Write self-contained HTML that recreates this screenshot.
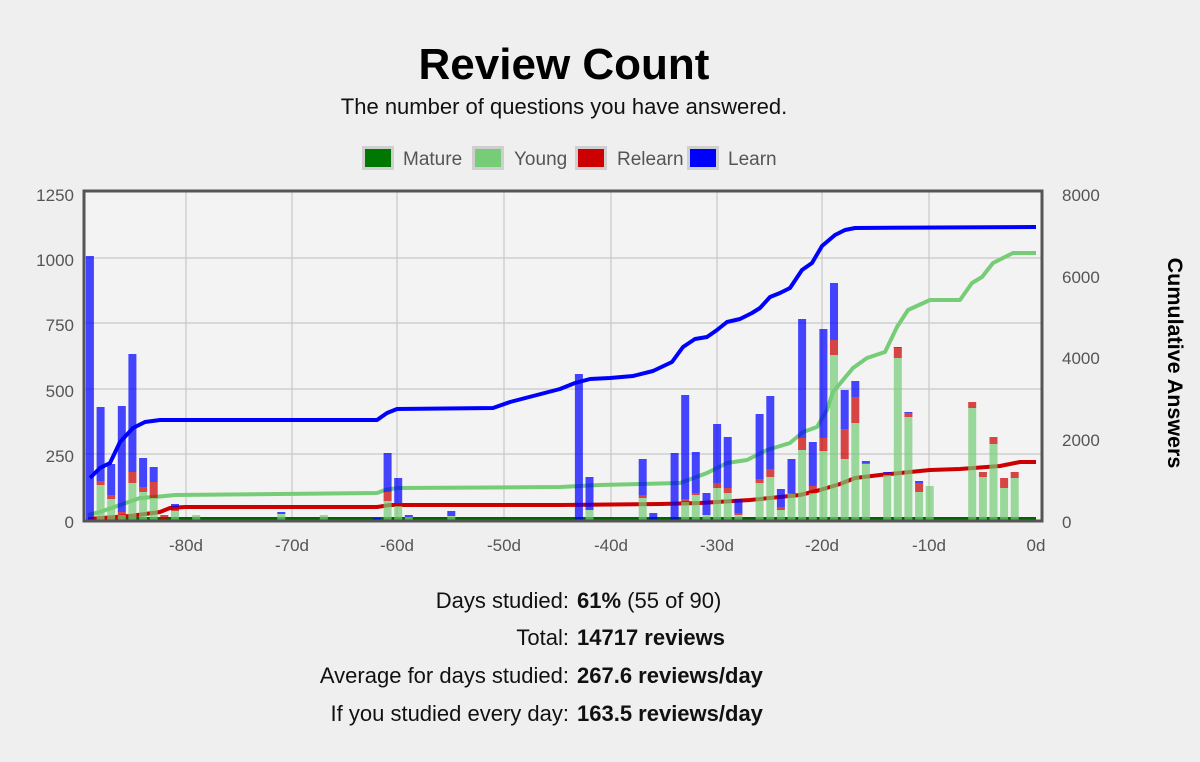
<!DOCTYPE html>
<html><head><meta charset="utf-8">
<style>
html,body{margin:0;padding:0;width:1200px;height:762px;overflow:hidden;background:#efefef;font-family:"Liberation Sans",sans-serif;}
svg{position:absolute;left:0;top:0}
</style></head>
<body>
<svg width="1200" height="762" viewBox="0 0 1200 762" xmlns="http://www.w3.org/2000/svg" font-family="Liberation Sans, sans-serif">
<rect width="1200" height="762" fill="#efefef"/>
<text x="564" y="79" font-size="44" font-weight="bold" text-anchor="middle" fill="#000">Review Count</text>
<text x="564" y="114" font-size="22" text-anchor="middle" fill="#111">The number of questions you have answered.</text>
<g font-size="19" fill="#555">
<rect x="362" y="146" width="32" height="24" fill="#cfcfcf"/><rect x="365" y="149" width="26" height="18" fill="#007700"/><text x="403" y="165">Mature</text>
<rect x="472" y="146" width="32" height="24" fill="#cfcfcf"/><rect x="475" y="149" width="26" height="18" fill="#77cc77"/><text x="514" y="165">Young</text>
<rect x="575" y="146" width="32" height="24" fill="#cfcfcf"/><rect x="578" y="149" width="26" height="18" fill="#cc0000"/><text x="617" y="165">Relearn</text>
<rect x="687" y="146" width="32" height="24" fill="#cfcfcf"/><rect x="690" y="149" width="26" height="18" fill="#0000ff"/><text x="728" y="165">Learn</text>
</g>
<rect x="84" y="191" width="958" height="330" fill="#f3f3f3"/>
<g stroke="#c8c8c8" stroke-width="1.2">
<line x1="84" x2="1042" y1="258" y2="258"/><line x1="84" x2="1042" y1="323" y2="323"/><line x1="84" x2="1042" y1="389" y2="389"/><line x1="84" x2="1042" y1="454" y2="454"/>
<line x1="186" x2="186" y1="191" y2="521"/><line x1="292" x2="292" y1="191" y2="521"/><line x1="397" x2="397" y1="191" y2="521"/><line x1="504" x2="504" y1="191" y2="521"/><line x1="611" x2="611" y1="191" y2="521"/><line x1="717" x2="717" y1="191" y2="521"/><line x1="822" x2="822" y1="191" y2="521"/><line x1="929" x2="929" y1="191" y2="521"/>
</g>
<g fill="none" stroke-linejoin="round">
<polyline stroke="#006600" stroke-width="4" points="88,519 1036,519"/>
<polyline stroke="#77cc77" stroke-width="4" points="88,515 100,512 120,505 140,498 155,497 175,495 377,493 385,490 397,488 560,487 600,485 640,484 680,483 707,473 727,463 747,460 767,450 790,443 803,432 817,427 827,410 833,392 853,368 867,358 885,352 897,327 908,310 930,300 960,300 972,283 982,277 993,263 1013,253 1036,253"/>
<polyline stroke="#cc0000" stroke-width="4" points="88,519 130,516 160,512 170,508 185,507 377,507 390,505 560,505 660,504 700,503 750,500 800,495 820,490 840,484 855,478 880,475 930,470 960,469 1000,466 1020,462 1036,462"/>
<polyline stroke="#0000ff" stroke-width="4" points="90,478 100,468 110,463 120,442 133,428 145,422 160,420 377,420 387,413 397,409 493,408 510,402 560,389 575,383 590,379 610,378 633,376 653,371 672,362 683,347 695,339 707,337 717,330 727,322 740,319 752,313 760,308 770,297 780,293 790,288 802,270 812,263 822,246 835,235 845,230 855,228 1036,227"/>
</g>
<g id="bars"></g>
<rect x="84" y="191" width="958" height="330" fill="none" stroke="#555" stroke-width="3"/>
<g font-size="17" fill="#555">
<text x="74" y="201" text-anchor="end">1250</text><text x="74" y="266" text-anchor="end">1000</text><text x="74" y="331" text-anchor="end">750</text><text x="74" y="397" text-anchor="end">500</text><text x="74" y="462" text-anchor="end">250</text><text x="74" y="528" text-anchor="end">0</text>
<text x="1062" y="201">8000</text><text x="1062" y="283">6000</text><text x="1062" y="364">4000</text><text x="1062" y="446">2000</text><text x="1062" y="528">0</text>
<g text-anchor="middle"><text x="186" y="551">-80d</text><text x="292" y="551">-70d</text><text x="397" y="551">-60d</text><text x="504" y="551">-50d</text><text x="611" y="551">-40d</text><text x="717" y="551">-30d</text><text x="822" y="551">-20d</text><text x="929" y="551">-10d</text><text x="1036" y="551">0d</text></g>
</g>
<text transform="translate(1168,363) rotate(90)" font-size="21.5" font-weight="bold" text-anchor="middle" fill="#000">Cumulative Answers</text>
<g font-size="22" fill="#111">
<text x="569" y="608" text-anchor="end">Days studied:</text><text x="577" y="608"><tspan font-weight="bold">61%</tspan> (55 of 90)</text>
<text x="569" y="645" text-anchor="end">Total:</text><text x="577" y="645" font-weight="bold">14717 reviews</text>
<text x="569" y="683" text-anchor="end">Average for days studied:</text><text x="577" y="683" font-weight="bold">267.6 reviews/day</text>
<text x="569" y="721" text-anchor="end">If you studied every day:</text><text x="577" y="721" font-weight="bold">163.5 reviews/day</text>
</g>
</svg>
<script>
var d=[[-89,520,520,256],[-88,485,481,407],[-87,499,495,464],[-86,515,512,406],[-85,483,472,354],[-84,492,487,458],[-83,498,482,467],[-82,520,515,515],[-81,511,507,504],[-79,515,515,515],[-71,514,514,512],[-67,515,515,515],[-62,520,520,518],[-61,501,492,453],[-60,506,503,478],[-59,517,517,515],[-55,516,516,511],[-43,520,520,374],[-42,510,510,477],[-37,498,495,459],[-36,520,520,513],[-34,520,520,453],[-33,502,499,395],[-32,495,493,452],[-31,515,515,493],[-30,488,483,424],[-29,493,488,437],[-28,515,513,499],[-26,483,479,414],[-25,477,469,396],[-24,510,507,489],[-23,494,493,459],[-22,450,438,319],[-21,493,486,442],[-20,451,438,329],[-19,355,340,283],[-18,459,429,390],[-17,423,397,381],[-16,464,463,461],[-14,475,473,472],[-13,358,348,347],[-12,417,413,412],[-11,492,483,481],[-10,486,486,486],[-6,408,402,402],[-5,477,472,472],[-4,444,437,437],[-3,488,478,478],[-2,478,472,472]];
var g=document.getElementById('bars'),s='';
d.forEach(function(b){var x=(1036+10.63*b[0]-4).toFixed(1);
function r(y1,y2,c){if(y2-y1>0.5)s+='<rect x="'+x+'" y="'+y1+'" width="8" height="'+(y2-y1)+'" fill="'+c+'" fill-opacity="0.72"/>';}
r(b[1],520,'#77cc77');r(b[2],b[1],'#cc0000');r(b[3],b[2],'#0000ff');});
g.innerHTML=s;
</script>
</body></html>
